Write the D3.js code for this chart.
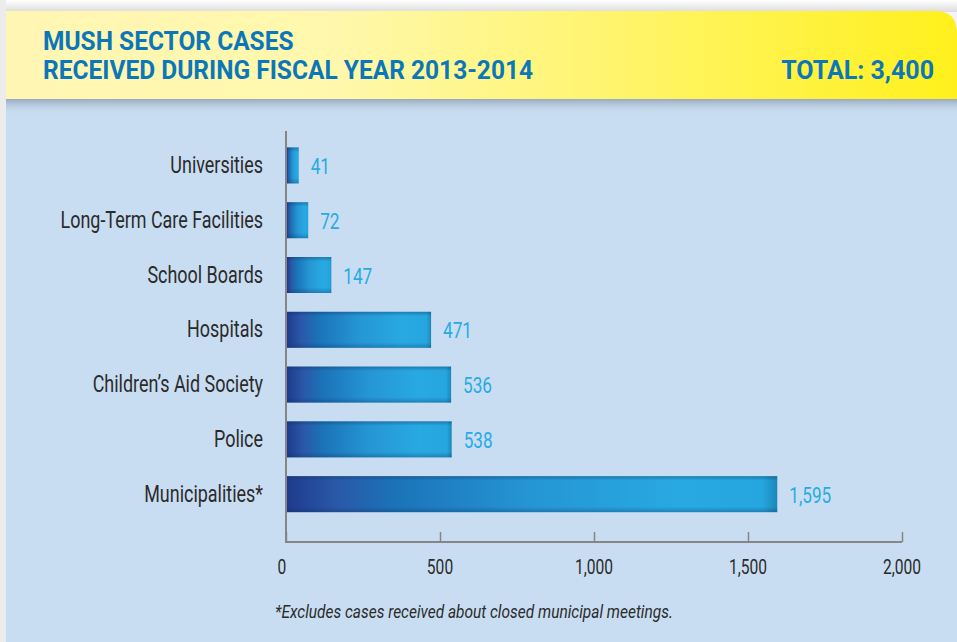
<!DOCTYPE html>
<html>
<head>
<meta charset="utf-8">
<script src="https://cdnjs.cloudflare.com/ajax/libs/d3/7.8.5/d3.min.js"></script>
<style>
  html, body { margin: 0; padding: 0; background: #f4f4f4; }
  svg { display: block; }
</style>
</head>
<body>
<svg id="mainSvg" width="957" height="642"></svg>
<script>
// data
var categories = ["Universities", "Long-Term Care Facilities", "School Boards", "Hospitals",
                  "Children\u2019s Aid Society", "Police", "Municipalities*"];
var cases = [41, 72, 147, 471, 536, 538, 1595];
var xTicks = [0, 500, 1000, 1500, 2000];
var titleLines = ["MUSH SECTOR CASES", "RECEIVED DURING FISCAL YEAR 2013-2014"];
var totalLabel = "TOTAL: 3,400";
var footnote = "*Excludes cases received about closed municipal meetings.";

var font = "Roboto, 'DejaVu Sans Condensed', sans-serif";
var squeeze = 0.78;   // condensed look

var svg = d3.select("#mainSvg");
var defs = svg.append("defs");

// header gradient
var hg = defs.append("linearGradient").attr("id", "headGrad")
    .attr("x1", "0%").attr("x2", "100%").attr("y1", "0%").attr("y2", "0%");
hg.append("stop").attr("offset", "0%").attr("stop-color", "#fff6b4");
hg.append("stop").attr("offset", "35%").attr("stop-color", "#fff8ac");
hg.append("stop").attr("offset", "100%").attr("stop-color", "#fff01c");

// header shadow onto panel
var sg = defs.append("linearGradient").attr("id", "shadowGrad")
    .attr("x1", "0").attr("x2", "0").attr("y1", "0").attr("y2", "1");
sg.append("stop").attr("offset", "0%").attr("stop-color", "#8e9db0").attr("stop-opacity", 0.8);
sg.append("stop").attr("offset", "100%").attr("stop-color", "#c8ddf1").attr("stop-opacity", 0);

// top shadow above header
var tg = defs.append("linearGradient").attr("id", "topShadow")
    .attr("x1", "0").attr("x2", "0").attr("y1", "0").attr("y2", "1");
tg.append("stop").attr("offset", "0%").attr("stop-color", "#ffffff");
tg.append("stop").attr("offset", "100%").attr("stop-color", "#dcdcdc");

// bar gradient (horizontal)
var bg = defs.append("linearGradient").attr("id", "barGrad")
    .attr("x1", "0%").attr("x2", "100%").attr("y1", "0%").attr("y2", "0%");
bg.append("stop").attr("offset", "0%").attr("stop-color", "#1f3b8e");
bg.append("stop").attr("offset", "10%").attr("stop-color", "#2a58a8");
bg.append("stop").attr("offset", "22%").attr("stop-color", "#1b73b8");
bg.append("stop").attr("offset", "50%").attr("stop-color", "#2596d4");
bg.append("stop").attr("offset", "80%").attr("stop-color", "#28a9e2");
bg.append("stop").attr("offset", "97%").attr("stop-color", "#25a6de");
bg.append("stop").attr("offset", "100%").attr("stop-color", "#1b87b8");

// vertical shading overlay on bars
var vg = defs.append("linearGradient").attr("id", "barShade")
    .attr("x1", "0").attr("x2", "0").attr("y1", "0").attr("y2", "1");
vg.append("stop").attr("offset", "0%").attr("stop-color", "#0a2a5a").attr("stop-opacity", 0.35);
vg.append("stop").attr("offset", "12%").attr("stop-color", "#0a2a5a").attr("stop-opacity", 0.0);
vg.append("stop").attr("offset", "85%").attr("stop-color", "#0a2a5a").attr("stop-opacity", 0.0);
vg.append("stop").attr("offset", "100%").attr("stop-color", "#0a2a5a").attr("stop-opacity", 0.3);

// backgrounds
svg.append("rect").attr("x", 0).attr("y", 0).attr("width", 957).attr("height", 12)
    .attr("fill", "url(#topShadow)");
svg.append("rect").attr("x", 0).attr("y", 0).attr("width", 6).attr("height", 642)
    .attr("fill", "#ececec");
svg.append("rect").attr("x", 6).attr("y", 98).attr("width", 951).attr("height", 544)
    .attr("fill", "#c8ddf1");
svg.append("rect").attr("x", 6).attr("y", 99).attr("width", 951).attr("height", 16)
    .attr("fill", "url(#shadowGrad)");

// header band with rounded top-right corner
var hx = 6, hy = 11, hw = 951, hh = 88, r = 22;
svg.append("path")
    .attr("d", "M" + hx + "," + hy + " H" + (hx + hw - r) +
        " Q" + (hx + hw) + "," + hy + " " + (hx + hw) + "," + (hy + r) +
        " V" + (hy + hh) + " H" + hx + " Z")
    .attr("fill", "url(#headGrad)");

// helper: text squeezed horizontally around its anchor point
function squeezedText(parent, tx, ty, sx) {
    return parent.append("text")
        .attr("transform", "translate(" + tx + "," + ty + ") scale(" + sx + ",1)");
}

titleLines.forEach(function (d, i) {
    squeezedText(svg, 43, 50 + i * 29, 0.98)
        .attr("fill", "#0b77b9")
        .style("font-family", font)
        .style("font-weight", "bold")
        .style("font-size", "25px")
        .text(d);
});

squeezedText(svg, 934, 79, 1)
    .attr("text-anchor", "end")
    .attr("fill", "#0b77b9")
    .style("font-family", font)
    .style("font-weight", "bold")
    .style("font-size", "25px")
    .text(totalLabel);

// chart
var left = 286;
var width = 616;
var axisY = 542;

var x = d3.scaleLinear().domain([0, 2000]).range([0, width]);
var y = d3.scaleBand().domain(categories).range([131, 528.6])
    .paddingInner(0.343).paddingOuter(0.3);

var g = svg.append("g").attr("transform", "translate(" + left + ",0)");

// x axis: ticks pointing up
var xAxis = d3.axisTop(x).tickValues(xTicks).tickSize(10).tickFormat("");
var axG = g.append("g").attr("transform", "translate(0," + axisY + ")").call(xAxis);
axG.select(".domain").attr("stroke", "#858585").attr("stroke-width", 2)
    .attr("d", "M0,0H" + width);
axG.selectAll(".tick line").attr("stroke", "#858585").attr("stroke-width", 1.5);

xTicks.forEach(function (d) {
    squeezedText(g, x(d) + (d === 0 ? -4 : 0), 574, squeeze)
        .attr("text-anchor", "middle")
        .attr("fill", "#2b2b2b")
        .style("font-family", font)
        .style("font-size", "20px")
        .text(d3.format(",")(d));
});

// y axis line
g.append("line")
    .attr("x1", 0).attr("x2", 0)
    .attr("y1", 131).attr("y2", axisY + 1)
    .attr("stroke", "#858585").attr("stroke-width", 2);

// bars
var bars = g.selectAll(".bar")
    .data(cases)
    .enter()
    .append("g")
    .attr("class", "bar");

bars.append("rect")
    .attr("x", 1)
    .attr("y", function (d, i) { return y(categories[i]); })
    .attr("width", function (d) { return x(d) - 1; })
    .attr("height", y.bandwidth())
    .attr("fill", "url(#barGrad)");

bars.append("rect")
    .attr("x", 1)
    .attr("y", function (d, i) { return y(categories[i]); })
    .attr("width", function (d) { return x(d) - 1; })
    .attr("height", y.bandwidth())
    .attr("fill", "url(#barShade)");

cases.forEach(function (d, i) {
    squeezedText(g, x(d) + 12, y(categories[i]) + y.bandwidth() / 2 + 8.5, squeeze)
        .attr("fill", "#27abe3")
        .style("font-family", font)
        .style("font-size", "22px")
        .text(d3.format(",")(d));
});

// category labels
categories.forEach(function (d) {
    squeezedText(g, -23, y(d) + y.bandwidth() / 2 + 7.5, squeeze)
        .attr("text-anchor", "end")
        .attr("fill", "#2b2b2b")
        .style("font-family", font)
        .style("font-size", "23px")
        .text(d);
});

// footnote
squeezedText(svg, 275, 618, 0.86)
    .attr("fill", "#2b2b2b")
    .style("font-family", font)
    .style("font-style", "italic")
    .style("font-size", "18px")
    .text(footnote);
</script>
</body>
</html>
